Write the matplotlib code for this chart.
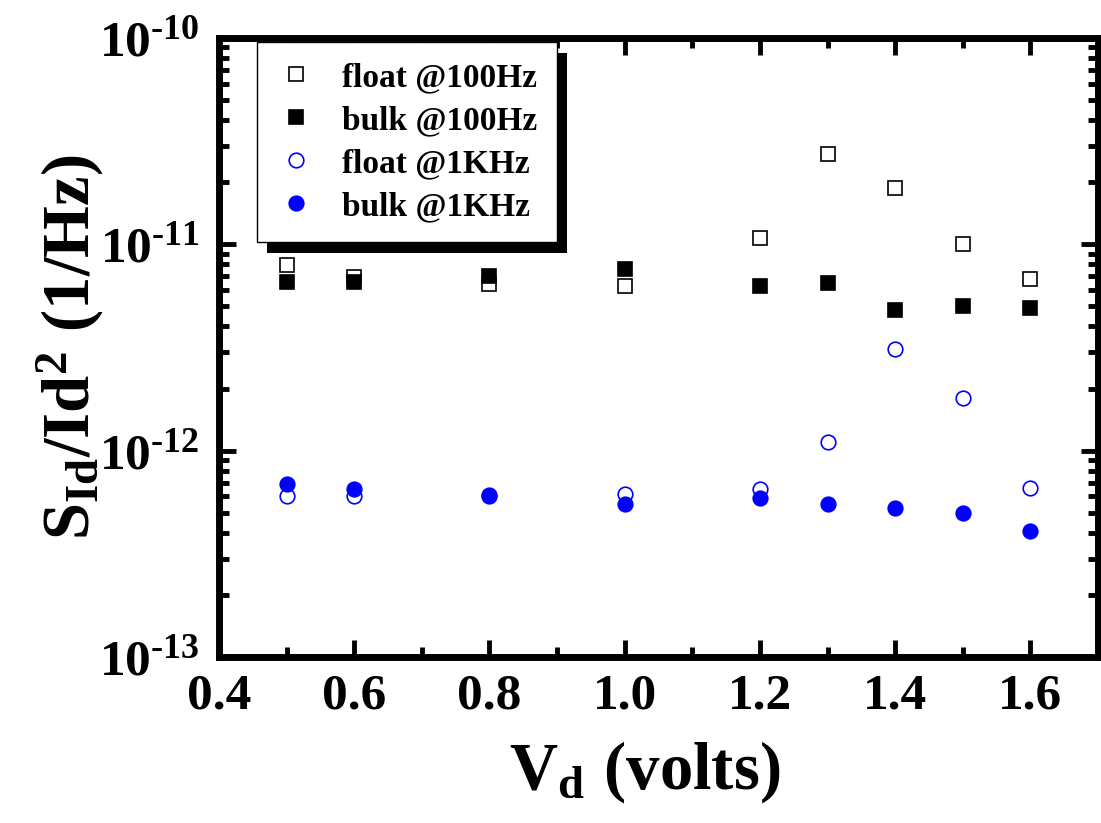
import matplotlib
matplotlib.use("Agg")
import matplotlib.pyplot as plt
from matplotlib.patches import Rectangle
from matplotlib.ticker import MultipleLocator, LogLocator, FormatStrFormatter, FuncFormatter
import numpy as np

plt.rcParams['font.family'] = 'Liberation Serif'
plt.rcParams['font.weight'] = 'bold'
plt.rcParams['axes.unicode_minus'] = False
plt.rcParams['mathtext.fontset'] = 'custom'
plt.rcParams['mathtext.rm'] = 'Liberation Serif:bold'
plt.rcParams['mathtext.it'] = 'Liberation Serif:bold'
plt.rcParams['mathtext.bf'] = 'Liberation Serif:bold'

# drain voltage (V)
vd = [0.5, 0.6, 0.8, 1.0, 1.2, 1.3, 1.4, 1.5, 1.6]
# normalised noise S_Id/Id^2 (1/Hz)
float_100 = [7.9e-12, 6.95e-12, 6.45e-12, 6.25e-12, 1.07e-11, 2.75e-11, 1.87e-11, 1.0e-11, 6.8e-12]
bulk_100 = [6.6e-12, 6.6e-12, 7.0e-12, 7.6e-12, 6.25e-12, 6.5e-12, 4.8e-12, 5.0e-12, 4.9e-12]
float_1k = [6.0e-13, 6.0e-13, 6.1e-13, 6.15e-13, 6.5e-13, 1.1e-12, 3.1e-12, 1.8e-12, 6.6e-13]
bulk_1k = [6.9e-13, 6.5e-13, 6.05e-13, 5.5e-13, 5.9e-13, 5.5e-13, 5.25e-13, 5.0e-13, 4.1e-13]

fig = plt.figure(figsize=(11.01, 8.23), dpi=100)
ax = fig.add_axes([0.1989, 0.2017, 0.7984, 0.7521])

ax.plot(vd, float_100, 's', ms=9.4, mfc='white', mec='black', mew=1.2, ls='none', label='float @100Hz')
ax.plot(vd, bulk_100, 's', ms=9.4, mfc='black', mec='black', mew=1.2, ls='none', label='bulk @100Hz')
ax.plot(vd, float_1k, 'o', ms=10.5, mfc='white', mec='blue', mew=1.2, ls='none', label='float @1KHz')
ax.plot(vd, bulk_1k, 'o', ms=10.5, mfc='blue', mec='blue', mew=1.2, ls='none', label='bulk @1KHz')

ax.set_yscale('log')
ax.set_xlim(0.4, 1.7)
ax.set_ylim(1e-13, 1e-10)

ax.xaxis.set_major_locator(MultipleLocator(0.2))
ax.xaxis.set_minor_locator(MultipleLocator(0.1))
ax.xaxis.set_major_formatter(FormatStrFormatter('%.1f'))
ax.yaxis.set_major_locator(LogLocator(base=10))
ax.yaxis.set_minor_locator(LogLocator(base=10, subs=range(2, 10)))
ax.yaxis.set_major_formatter(FuncFormatter(lambda v, p: r'$\mathbf{10^{\text{-}%d}}$' % round(-np.log10(v))))

for s in ax.spines.values():
    s.set_linewidth(5)
ax.tick_params(which='both', direction='in', top=True, right=True, width=3.5)
ax.tick_params(which='major', length=12, labelsize=37)
ax.tick_params(which='minor', length=7)
ax.tick_params(axis='x', which='major', pad=12)
ax.tick_params(axis='y', which='major', pad=14)

ax.set_xlabel(r'$\mathbf{V_{d}\ (volts)}$', fontsize=48)
ax.set_ylabel(r'$\mathbf{S_{Id}/Id^{2}\ (1/Hz)}$', fontsize=48)
ax.xaxis.set_label_coords(0.484, -0.133)
ax.yaxis.set_label_coords(-0.128, 0.50)

leg = ax.legend(loc='upper left', bbox_to_anchor=(0.0432, 0.9935), borderaxespad=0,
                fontsize=24, fancybox=False, framealpha=1, edgecolor='black',
                handlelength=1.15, handletextpad=0.8, borderpad=0.6, labelspacing=0.36,
                numpoints=1)
leg.get_frame().set_linewidth(1)

# solid drop shadow behind the legend box
fig.canvas.draw()
bb = leg.get_window_extent()
shadow = Rectangle((bb.x0 + 10, bb.y0 - 11), bb.width, bb.height, facecolor='black',
                   edgecolor='none', transform=None, zorder=4.9)
ax.add_artist(shadow)

fig.savefig('out.png', dpi=100)
